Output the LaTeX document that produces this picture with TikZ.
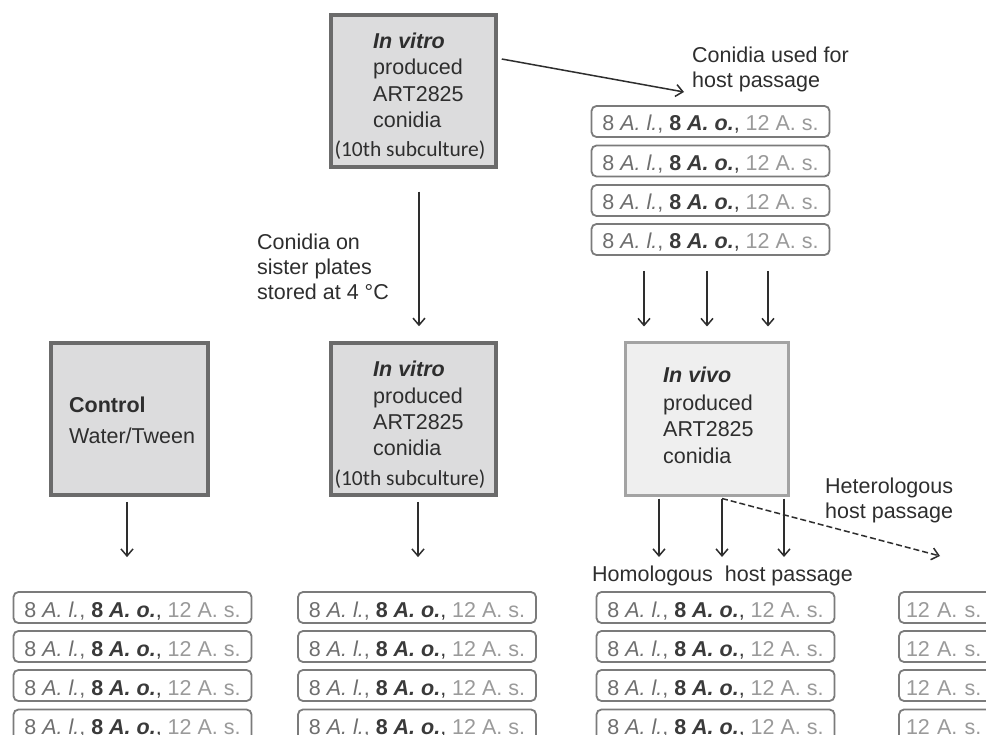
\documentclass[tikz,border=0pt]{standalone}
\usepackage{fontspec}
\setmainfont{Liberation Sans}
\newfontfamily\carlito{Carlito}
\usetikzlibrary{arrows.meta,calc}
\definecolor{txtdark}{HTML}{2E2E2E}
\definecolor{boxdark}{HTML}{6B6B6B}
\definecolor{fillgray}{HTML}{DCDCDD}
\definecolor{boxlight}{HTML}{A3A3A3}
\definecolor{filllight}{HTML}{EFEFEF}
\definecolor{smallborder}{HTML}{7B7B7B}
\definecolor{lgray}{HTML}{6E6E6E}
\definecolor{dgray}{HTML}{3A3A3A}
\definecolor{vlgray}{HTML}{9A9A9A}
\newcommand{\fs}{\fontsize{21.5pt}{26pt}\selectfont}
\newcommand{\sampletext}{{\color{lgray}8 \textit{A. l.},} {\color{dgray}\textbf{8 \textit{A. o.}},} {\color{vlgray}12 A. s.}}
\tikzset{
  bigbox/.style={draw=boxdark, line width=3.5pt, fill=fillgray, minimum width=165pt, minimum height=152pt, inner sep=0pt},
  vivobox/.style={bigbox, draw=boxlight, fill=filllight, line width=3pt, minimum width=163pt},
  smallbox/.style={draw=smallborder, line width=1.8pt, rounded corners=5pt, minimum width=238pt, minimum height=31pt, inner sep=0pt, text height=19pt, text depth=0pt, font=\fs},
  lbl/.style={anchor=base west, inner sep=0pt, text=txtdark, font=\fs},
  arr/.style={draw=txtdark, line width=1.5pt, -{Straight Barb[length=7pt,width=12pt,line width=1.5pt]}},
  darr/.style={arr, dash pattern=on 6pt off 3pt}
}
\begin{document}
\begin{tikzpicture}[x=1pt,y=-1pt]
\useasboundingbox (0,0) rectangle (986,735);
\clip (0,0) rectangle (986,735);
\fill[white] (0,0) rectangle (986,735);

% big boxes
\node[bigbox] (T) at (413.5,91) {};
\node[bigbox] (M) at (413.5,419) {};
\node[bigbox, minimum width=157pt] (C) at (129.5,419) {};
\node[vivobox] (V) at (706.5,419) {};

% small boxes, top right
\foreach \r/\y in {1/121.5,2/161,3/200.5,4/239.5}{
  \node[smallbox] (R\r) at (710.5,\y) {\sampletext};
}
% small boxes, bottom rows (cut by the lower and right edges, as in the reference)
\foreach \r/\y in {1/607.5,2/646.5,3/685.5,4/725}{
  \node[smallbox] (A\r) at (132.5,\y) {\sampletext};
  \node[smallbox] (B\r) at (417,\y) {\sampletext};
  \node[smallbox] (H\r) at (715.5,\y) {\sampletext};
  \node[smallbox, align=left, inner xsep=7pt, text width=224pt] (X\r) at (1018,\y) {\color{vlgray}12 A. s.};
}

% text in top box
\node[lbl] (t1) at (373,49) {\textbf{\textit{In vitro}}};
\node[lbl] (t2) at (373,75) {produced};
\node[lbl] (t3) at (373,102) {ART2825};
\node[lbl] (t4) at (373,128) {conidia};
\node[lbl, anchor=base] (t5) at (410,157) {\carlito (10th subculture)};
% text in middle box
\node[lbl] (m1) at (373,377) {\textbf{\textit{In vitro}}};
\node[lbl] (m2) at (373,403) {produced};
\node[lbl] (m3) at (373,430) {ART2825};
\node[lbl] (m4) at (373,456) {conidia};
\node[lbl, anchor=base] (m5) at (410,485) {\carlito (10th subculture)};
% in vivo box
\node[lbl] (v1) at (663,383) {\textbf{\textit{In vivo}}};
\node[lbl] (v2) at (663,410) {produced};
\node[lbl] (v3) at (663,437) {ART2825};
\node[lbl] (v4) at (663,463) {conidia};
% control box
\node[lbl] (c1) at (69,413) {\textbf{Control}};
\node[lbl] (c2) at (69,443) {Water/Tween};

% free labels
\node[lbl] (s1) at (257,250) {Conidia on};
\node[lbl] (s2) at (257,275) {sister plates};
\node[lbl] (s3) at (257,300) {stored at 4 °C};
\node[lbl] (u1) at (692,63) {Conidia used for};
\node[lbl] (u2) at (692,88) {host passage};
\node[lbl] (h1) at (825,493) {Heterologous};
\node[lbl] (h2) at (825,518) {host passage};
\node[lbl] (hom) at (592,581) {Homologous\hspace{0.28em} host passage};

% connectors
\coordinate (cu) at (684,92);
\draw[arr] ($(T.east)+(4,-32)$) -- (cu);
\draw[arr] ($(T.south)+(5.5,23)$) -- ($(M.north)+(5.5,-15)$);
\foreach \dx/\ex in {-66.5/-62.5, -3.5/0.5, 57.5/61.5}{
  \draw[arr] ($(R4.south)+(\dx,15)$) -- ($(V.north)+(\ex,-15)$);
}
\draw[arr] ($(C.south)+(-2.5,5)$) -- ($(A1.north)+(-5.5,-34)$);
\draw[arr] ($(M.south)+(4.5,5)$) -- ($(B1.north)+(1,-34)$);
\coordinate (k1) at (659,557);
\coordinate (k2) at (722,557);
\coordinate (k3) at (784,557);
\draw[arr] ($(V.south)+(-47.5,2)$) -- (k1);
\draw[arr] ($(V.south)+(15.5,2)$) -- (k2);
\draw[arr] ($(V.south)+(77.5,2)$) -- (k3);
\coordinate (het) at (940,556);
\draw[darr] ($(V.south)+(15.5,2)$) -- (het);
\end{tikzpicture}
\end{document}
